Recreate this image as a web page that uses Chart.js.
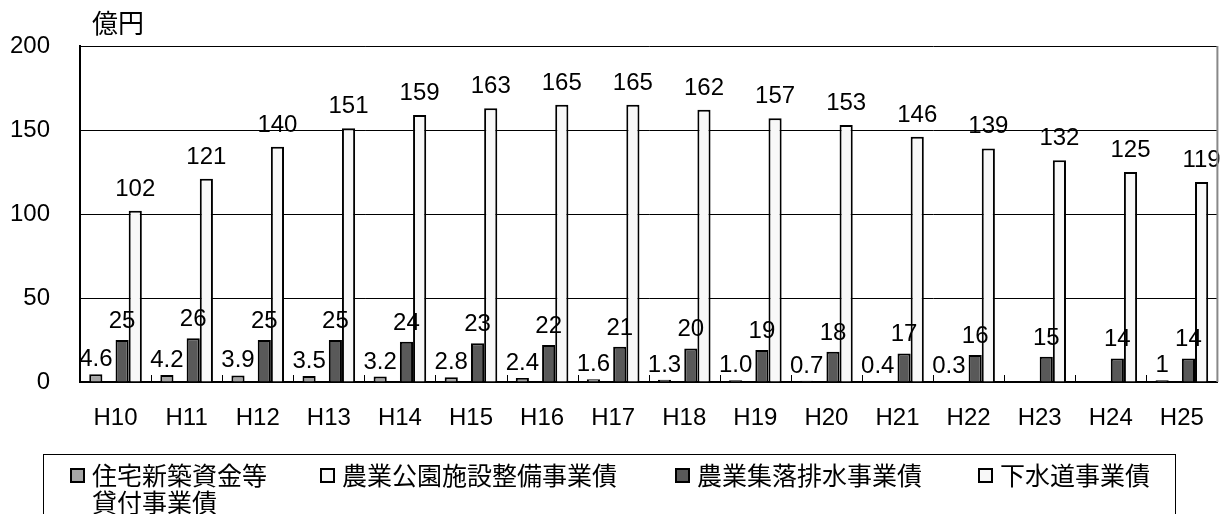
<!DOCTYPE html>
<html>
<head>
<meta charset="utf-8">
<script src="https://cdn.jsdelivr.net/npm/chart.js@4.4.1/dist/chart.umd.min.js"></script>
<style>
  body { margin: 0; background: #fff; }
  #wrap { position: relative; width: 1226px; height: 514px; overflow: hidden; }
  #legend {
    position: absolute; left: 43px; top: 454px; width: 1133px; height: 90px;
    border: 1px solid #000; box-sizing: border-box;
    font-family: "Noto Sans CJK JP", sans-serif; font-size: 25px; color: #000;
  }
  .item { position: absolute; top: 6px; display: flex; align-items: flex-start; line-height: 27px; }
  .box { width: 15px; height: 15px; box-sizing: border-box; border: 2px solid #000; margin: 7px 7px 0 0; flex: none; }
</style>
</head>
<body>
<div id="wrap">
  <canvas id="myChart" width="1226" height="514"></canvas>
  <div id="legend"></div>
</div>
<script>
const FONT = '"Liberation Sans", "Noto Sans CJK JP", sans-serif';

const years = ['H10', 'H11', 'H12', 'H13', 'H14', 'H15', 'H16', 'H17', 'H18', 'H19', 'H20', 'H21', 'H22', 'H23', 'H24', 'H25'];
const yTicks = [0, 50, 100, 150, 200];

// 住宅新築資金等貸付事業債
const housing = [4.6, 4.2, 3.9, 3.5, 3.2, 2.8, 2.4, 1.6, 1.3, 1.0, 0.7, 0.4, 0.3, null, null, 1];
const housingText = ['4.6', '4.2', '3.9', '3.5', '3.2', '2.8', '2.4', '1.6', '1.3', '1.0', '0.7', '0.4', '0.3', null, null, '1'];
// 農業公園施設整備事業債 (no values shown)
const park = [null, null, null, null, null, null, null, null, null, null, null, null, null, null, null, null];
// 農業集落排水事業債
const rural = [25, 26, 25, 25, 24, 23, 22, 21, 20, 19, 18, 17, 16, 15, 14, 14];
// 下水道事業債
const sewer = [102, 121, 140, 151, 159, 163, 165, 165, 162, 157, 153, 146, 139, 132, 125, 119];

const legendLeft = [70, 320, 675, 978];

const valueLabels = {
  id: 'valueLabels',
  afterDatasetsDraw(chart) {
    const ctx = chart.ctx;
    ctx.save();
    ctx.font = '24px ' + FONT;
    ctx.fillStyle = '#000';
    ctx.textAlign = 'center';
    ctx.textBaseline = 'alphabetic';
    chart.data.datasets.forEach((ds, i) => {
      if (!ds.labelText) return;
      chart.getDatasetMeta(i).data.forEach((bar, j) => {
        const t = ds.labelText[j];
        if (t == null) return;
        ctx.fillText(t, bar.x, bar.y - ds.labelGap);
      });
    });
    ctx.restore();
  },
  afterDraw(chart) {
    const { ctx, chartArea } = chart;
    ctx.save();
    // right border of plot
    ctx.strokeStyle = '#888';
    ctx.lineWidth = 2;
    ctx.beginPath();
    ctx.moveTo(chartArea.right, chartArea.top);
    ctx.lineTo(chartArea.right, chartArea.bottom);
    ctx.stroke();
    // small inner ticks between categories
    ctx.strokeStyle = '#000';
    ctx.lineWidth = 1;
    const step = (chartArea.right - chartArea.left) / years.length;
    for (let i = 1; i < years.length; i++) {
      const x = Math.round(chartArea.left + i * step) + 0.5;
      ctx.beginPath();
      ctx.moveTo(x, chartArea.bottom);
      ctx.lineTo(x, chartArea.bottom - 7);
      ctx.stroke();
    }
    // unit
    ctx.font = '26px ' + FONT;
    ctx.fillStyle = '#000';
    ctx.textAlign = 'left';
    ctx.textBaseline = 'middle';
    ctx.fillText('億円', 92, 26);
    ctx.restore();
  }
};

const ctx = document.getElementById('myChart').getContext('2d');
const chart = new Chart(ctx, {
  type: 'bar',
  data: {
    labels: years,
    datasets: [
      {
        label: '住宅新築資金等\n貸付事業債',
        data: housing,
        labelText: housingText,
        labelGap: 8,
        backgroundColor: '#a6a6a6',
        borderColor: '#000',
        borderWidth: 2,
      },
      {
        label: '農業公園施設整備事業債',
        data: park,
        backgroundColor: '#f8f8f8',
        borderColor: '#000',
        borderWidth: 2,
      },
      {
        label: '農業集落排水事業債',
        data: rural,
        labelText: rural.map(String),
        labelGap: 12,
        backgroundColor: '#595959',
        borderColor: '#000',
        borderWidth: 2,
      },
      {
        label: '下水道事業債',
        data: sewer,
        labelText: sewer.map(String),
        labelGap: 15,
        backgroundColor: '#f8f8f8',
        borderColor: '#000',
        borderWidth: 2,
      },
    ],
  },
  options: {
    responsive: false,
    animation: false,
    layout: { padding: { top: 46, right: 4, left: 0, bottom: 0 } },
    datasets: { bar: { categoryPercentage: 0.74, barPercentage: 1.0 } },
    plugins: {
      legend: { display: false },
      tooltip: { enabled: false },
    },
    scales: {
      x: {
        grid: { display: false, drawTicks: false },
        border: { color: '#000', width: 2 },
        ticks: { color: '#000', font: { size: 24, family: FONT }, padding: 22, maxRotation: 0 },
        afterFit: (s) => { s.height = 132; },
      },
      y: {
        min: 0,
        max: 200,
        afterBuildTicks: (s) => { s.ticks = yTicks.map((v) => ({ value: v })); },
        grid: { color: '#000', lineWidth: 1, drawTicks: false },
        border: { color: '#000', width: 2 },
        ticks: { color: '#000', font: { size: 24, family: FONT }, padding: 30 },
        afterFit: (s) => { s.width = 80; },
      },
    },
  },
  plugins: [valueLabels],
});

// legend built from the datasets
const legend = document.getElementById('legend');
chart.data.datasets.forEach((ds, i) => {
  const item = document.createElement('div');
  item.className = 'item';
  item.style.left = (legendLeft[i] - 44) + 'px';
  const box = document.createElement('span');
  box.className = 'box';
  box.style.background = ds.backgroundColor;
  const text = document.createElement('span');
  text.innerHTML = ds.label.split('\n').join('<br>');
  item.appendChild(box);
  item.appendChild(text);
  legend.appendChild(item);
});
</script>
</body>
</html>
